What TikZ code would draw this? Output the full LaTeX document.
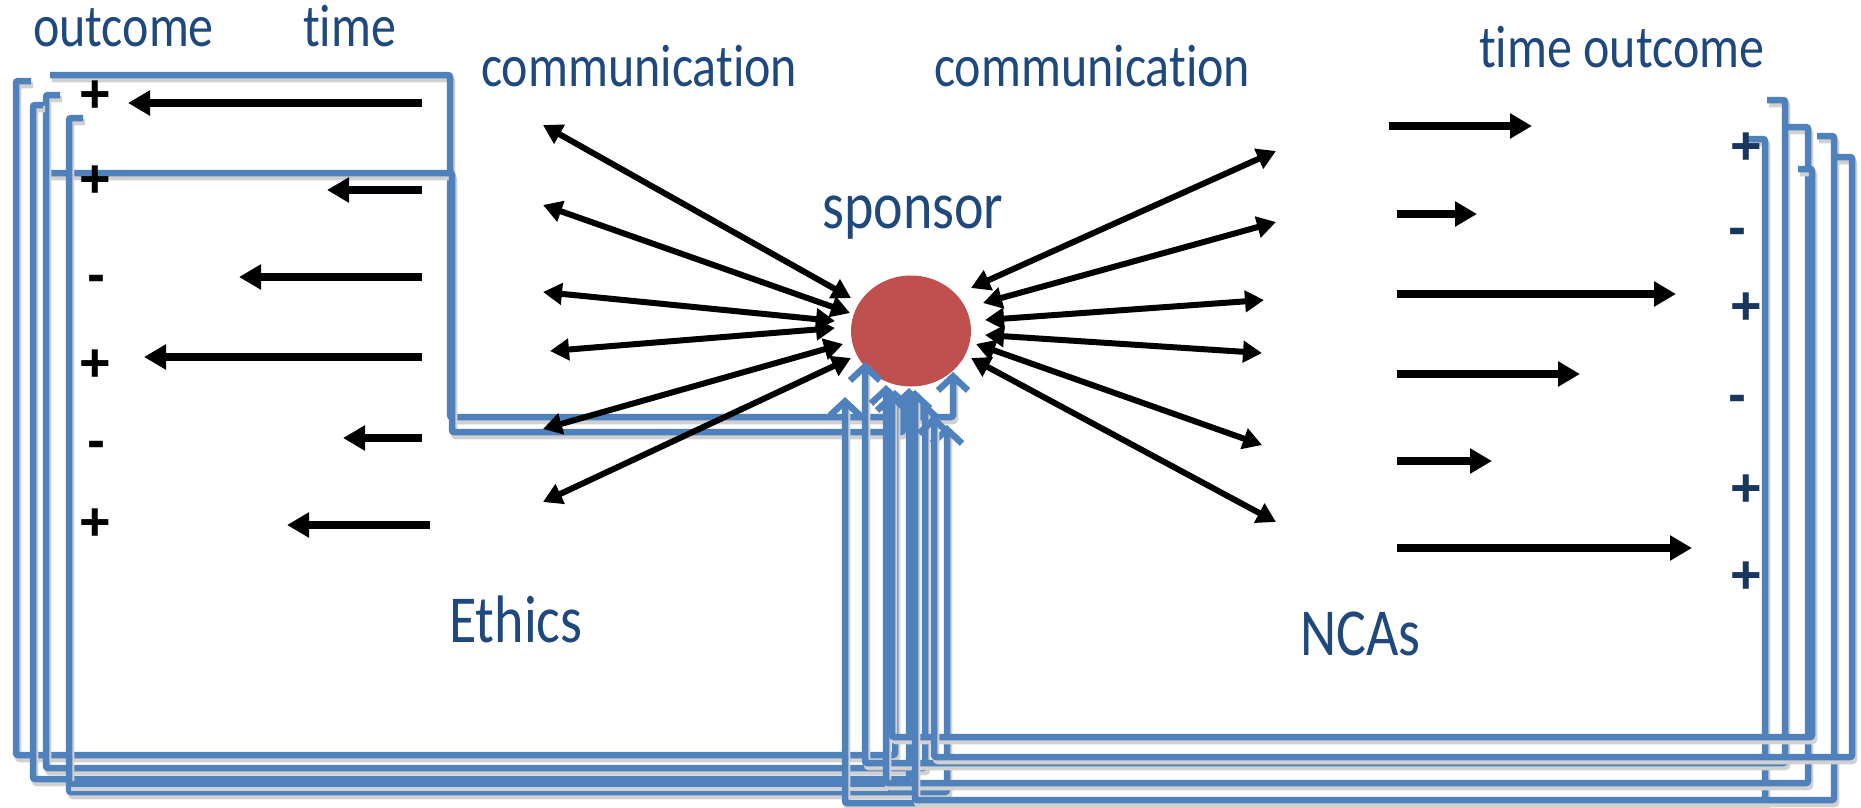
\documentclass[tikz,border=0pt]{standalone}
\usepackage{fontspec}
\setmainfont{Carlito}[Ligatures=NoCommon]
\newfontfamily\signfont{Liberation Sans}
\usetikzlibrary{arrows.meta,shapes.geometric}
\definecolor{bl}{HTML}{4F81BD}
\definecolor{txt}{HTML}{1F497D}
\definecolor{navy}{HTML}{17375E}
\definecolor{spred}{HTML}{C0504D}
\newcommand\vstretch[1]{\scalebox{1}[1.2]{#1}}
\newcommand\bluepath[1]{\draw[shadowline,shift={(2,4)}] #1; \draw[blueline] #1;}
\begin{document}
\begin{tikzpicture}[x=1pt,y=-1pt,
  blueline/.style={draw=bl, line width=6.5pt, rounded corners=2pt, -{Straight Barb[length=14pt,width=30pt]}},
  shadowline/.style={draw=black!18, line width=6.5pt, rounded corners=2pt},
  harrow/.style={draw=black, line width=7.5pt, -{Triangle[length=22pt,width=24pt]}},
  comm/.style={draw=black, line width=6pt, {Triangle[length=19pt,width=21pt]}-{Triangle[length=19pt,width=21pt]}},
  lbl/.style={text=txt, inner sep=0pt, anchor=base west, font=\fontsize{50}{60}\selectfont},
  biglbl/.style={text=txt, inner sep=0pt, anchor=base west, font=\fontsize{56}{66}\selectfont},
  lsign/.style={text=black, inner sep=0pt, font=\signfont\fontsize{54}{60}\selectfont\bfseries},
  rsign/.style={text=navy, inner sep=0pt, font=\signfont\fontsize{54}{60}\selectfont\bfseries}
]
\useasboundingbox (0,0) rectangle (1861,807);

% sponsor circle
\node[ellipse, fill=spred, minimum width=120pt, minimum height=111pt, inner sep=0pt] (sp) at (911,331) {};

% blue stacked frames / elbow connectors
\bluepath{(50,75) -- (450,75) -- (450,417) -- (953,417) -- (953,372)}
\bluepath{(49,173) -- (452,173) -- (452,432) -- (903,432) -- (903,394)}
\bluepath{(31,81) -- (16,81) -- (16,755) -- (895,755) -- (895,390)}
\bluepath{(60,95) -- (46,95) -- (46,768) -- (925,768) -- (925,402)}
\bluepath{(43,105) -- (33,105) -- (33,779) -- (909,779) -- (909,388)}
\bluepath{(83,118) -- (69,118) -- (69,792) -- (947,792) -- (947,425)}
\draw[shadowline,shift={(2,4)}] (69,784) -- (886,784);
\draw[draw=bl, line width=6.5pt] (69,784) -- (886,784);
\bluepath{(1747,139) -- (1765,139) -- (1765,803) -- (845,803) -- (845,397)}
\bluepath{(1767,100) -- (1785,100) -- (1785,763) -- (865,763) -- (865,362)}
\bluepath{(1788,127) -- (1808,127) -- (1808,783) -- (886,783) -- (886,385)}
\bluepath{(1798,169) -- (1812,169) -- (1812,737) -- (892,737) -- (892,392)}
\bluepath{(1817,136) -- (1834,136) -- (1834,800) -- (915,800) -- (915,390)}
\bluepath{(1836,157) -- (1852,157) -- (1852,757) -- (934,757) -- (934,415)}

% left time arrows
\draw[harrow] (422,103) -- (128,103);
\draw[harrow] (422,190) -- (327,190);
\draw[harrow] (422,277) -- (239,277);
\draw[harrow] (422,357) -- (144,357);
\draw[harrow] (422,438) -- (343,438);
\draw[harrow] (430,525) -- (287,525);

% right time arrows
\draw[harrow] (1389,126) -- (1532,126);
\draw[harrow] (1397,214) -- (1477,214);
\draw[harrow] (1397,294) -- (1676,294);
\draw[harrow] (1397,374) -- (1580,374);
\draw[harrow] (1397,461) -- (1492,461);
\draw[harrow] (1397,548) -- (1692,548);

% communication arrows left
\draw[comm] (543,125) -- (851,298);
\draw[comm] (543,205) -- (850,313);
\draw[comm] (543,292) -- (835,321);
\draw[comm] (550,351) -- (835,328);
\draw[comm] (543,429) -- (843,344);
\draw[comm] (543,502) -- (851,358);

% communication arrows right
\draw[comm] (1276,151) -- (971,288);
\draw[comm] (1276,222) -- (983,303);
\draw[comm] (1264,300) -- (985,320);
\draw[comm] (1262,353) -- (985,335);
\draw[comm] (1262,445) -- (976,344);
\draw[comm] (1276,522) -- (971,358);

% signs left
\node[lsign] (l1) at (95,97) {+};
\node[lsign] (l2) at (95,182) {+};
\node[lsign] (l3) at (96,277) {\vphantom{+}-};
\node[lsign] (l4) at (95,366) {+};
\node[lsign] (l5) at (96,443) {\vphantom{+}-};
\node[lsign] (l6) at (95,525) {+};

% signs right
\node[rsign] (r1) at (1746,149) {+};
\node[rsign] (r2) at (1737,230) {\vphantom{+}-};
\node[rsign] (r3) at (1746,309) {+};
\node[rsign] (r4) at (1737,397) {\vphantom{+}-};
\node[rsign] (r5) at (1746,491) {+};
\node[rsign] (r6) at (1746,578) {+};

% labels
\node[lbl] (outc) at (33,46) {\vstretch{outcome}};
\node[lbl] (timel) at (303,46) {\vstretch{time}};
\node[lbl] (comml) at (481,86) {\vstretch{communication}};
\node[lbl] (commr) at (934,86) {\vstretch{communication}};
\node[lbl] (tor) at (1479,67) {\vstretch{time outcome}};
\node[biglbl] (spl) at (822,228) {\vstretch{sponsor}};
\node[biglbl] (eth) at (449,642) {\vstretch{Ethics}};
\node[biglbl] (nca) at (1300,655) {\vstretch{NCAs}};
\end{tikzpicture}
\end{document}
